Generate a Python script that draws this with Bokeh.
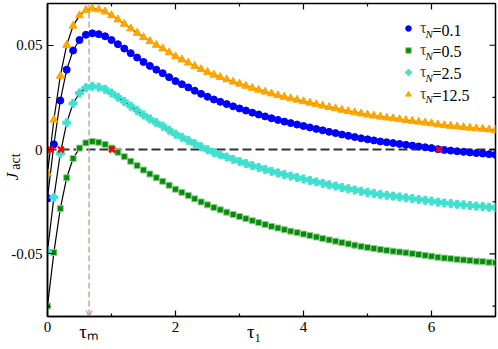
from bokeh.plotting import figure
from bokeh.models import (Range1d, FixedTicker, LinearAxis, Span, Label, Legend,
                          LegendItem, Arrow, OpenHead)
from bokeh.embed import file_html
from bokeh.resources import INLINE

# ---------------- data ----------------
tau1 = [round(0.1 * i, 1) for i in range(71)]

j_tn01 = [-0.0232, 0.0025, 0.0235, 0.0383, 0.0475, 0.0525, 0.0550, 0.0557, 0.0553, 0.0543,
          0.0525, 0.0505, 0.0484, 0.0462, 0.0441, 0.0420, 0.0401, 0.0383, 0.0366, 0.0347,
          0.0328, 0.0313, 0.0298, 0.0282, 0.0267, 0.0253, 0.0240, 0.0229, 0.0218, 0.0207,
          0.0197, 0.0187, 0.0177, 0.0168, 0.0159, 0.0150, 0.0142, 0.0134, 0.0127, 0.0120,
          0.0113, 0.0106, 0.0099, 0.0092, 0.0085, 0.0079, 0.0072, 0.0066, 0.0060, 0.0054,
          0.0049, 0.0044, 0.0039, 0.0035, 0.0031, 0.0027, 0.0023, 0.0019, 0.0015, 0.0011,
          0.0007, 0.0002, -0.0002, -0.0005, -0.0008, -0.0011, -0.0014, -0.0017, -0.0019, -0.0022,
          -0.0025]

j_tn05 = [-0.0750, -0.0493, -0.0283, -0.0135, -0.0043, 0.0007, 0.0032, 0.0039, 0.0035, 0.0025,
          0.0007, -0.0013, -0.0034, -0.0056, -0.0077, -0.0098, -0.0117, -0.0135, -0.0152, -0.0171,
          -0.0190, -0.0205, -0.0220, -0.0236, -0.0251, -0.0265, -0.0278, -0.0289, -0.0300, -0.0311,
          -0.0321, -0.0331, -0.0341, -0.0350, -0.0359, -0.0368, -0.0376, -0.0384, -0.0391, -0.0398,
          -0.0405, -0.0412, -0.0419, -0.0426, -0.0433, -0.0439, -0.0446, -0.0452, -0.0458, -0.0464,
          -0.0469, -0.0474, -0.0479, -0.0483, -0.0487, -0.0491, -0.0495, -0.0499, -0.0503, -0.0507,
          -0.0511, -0.0516, -0.0520, -0.0523, -0.0526, -0.0529, -0.0532, -0.0535, -0.0537, -0.0540,
          -0.0543]

j_tn25 = [-0.0486, -0.0229, -0.0019, 0.0129, 0.0221, 0.0271, 0.0296, 0.0303, 0.0299, 0.0289,
          0.0271, 0.0251, 0.0230, 0.0208, 0.0187, 0.0166, 0.0147, 0.0129, 0.0112, 0.0093,
          0.0074, 0.0059, 0.0044, 0.0028, 0.0013, -0.0001, -0.0014, -0.0025, -0.0036, -0.0047,
          -0.0057, -0.0067, -0.0077, -0.0086, -0.0095, -0.0104, -0.0112, -0.0120, -0.0127, -0.0134,
          -0.0141, -0.0148, -0.0155, -0.0162, -0.0169, -0.0175, -0.0182, -0.0188, -0.0194, -0.0200,
          -0.0205, -0.0210, -0.0215, -0.0219, -0.0223, -0.0227, -0.0231, -0.0235, -0.0239, -0.0243,
          -0.0247, -0.0252, -0.0256, -0.0259, -0.0262, -0.0265, -0.0268, -0.0271, -0.0273, -0.0276,
          -0.0279]

j_tn125 = [-0.0114, 0.0143, 0.0353, 0.0501, 0.0593, 0.0643, 0.0668, 0.0675, 0.0671, 0.0661,
           0.0643, 0.0623, 0.0602, 0.0580, 0.0559, 0.0538, 0.0519, 0.0501, 0.0484, 0.0465,
           0.0446, 0.0431, 0.0416, 0.0400, 0.0385, 0.0371, 0.0358, 0.0347, 0.0336, 0.0325,
           0.0315, 0.0305, 0.0295, 0.0286, 0.0277, 0.0268, 0.0260, 0.0252, 0.0245, 0.0238,
           0.0231, 0.0224, 0.0217, 0.0210, 0.0203, 0.0197, 0.0190, 0.0184, 0.0178, 0.0172,
           0.0167, 0.0162, 0.0157, 0.0153, 0.0149, 0.0145, 0.0141, 0.0137, 0.0133, 0.0129,
           0.0125, 0.0120, 0.0116, 0.0113, 0.0110, 0.0107, 0.0104, 0.0101, 0.0099, 0.0096,
           0.0093]

cross_tau = [0.044, 0.21, 1.01, 6.12]
cross_j = [0.0, 0.0, 0.0, 0.0]
tau_m = 0.65

legend_values = ["0.1", "0.5", "2.5", "12.5"]
x_major = [0, 2, 4, 6]
x_minor = [1, 3, 5]
y_major = [-0.05, 0, 0.05]
y_minor = [-0.075, -0.025, 0.025]
y_tick_labels = {-0.05: "-0.05", 0: "0", 0.05: "0.05"}

FONT = "Liberation Serif"
W, H = 498, 349
FL, FR, FT, FB = 47.0, 495.0, 3.0, 316.0   # frame edges, canvas pixels

# ---------------- figure ----------------
xr = Range1d(0, 7)
yr = Range1d(-0.08, 0.07)
p = figure(width=W, height=H, x_range=xr, y_range=yr,
           output_backend="svg", toolbar_location=None,
           min_border_left=int(FL), min_border_right=int(W - FR),
           min_border_top=int(FT), min_border_bottom=int(H - FB))
p.xgrid.visible = False
p.ygrid.visible = False
p.outline_line_color = "black"
p.outline_line_width = 1.5
p.background_fill_color = "white"
p.border_fill_color = "white"


def X(px):
    return (px - FL) / (FR - FL) * (xr.end - xr.start) + xr.start


def Y(py):
    return yr.end - (py - FT) / (FB - FT) * (yr.end - yr.start)


for ax in (p.xaxis[0], p.yaxis[0]):
    ax.axis_line_color = "black"
    ax.axis_line_width = 1.5
    ax.major_tick_in = 6
    ax.major_tick_out = 0
    ax.minor_tick_in = 3
    ax.minor_tick_out = 0
    ax.major_tick_line_color = "black"
    ax.minor_tick_line_color = "black"
    ax.major_tick_line_width = 1.2
    ax.minor_tick_line_width = 1.2
    ax.major_label_text_font = FONT
    ax.major_label_text_color = "black"
    ax.major_label_text_font_size = "15px"
    ax.major_label_standoff = 5

p.xaxis.ticker = FixedTicker(ticks=x_major, minor_ticks=x_minor)
p.yaxis.ticker = FixedTicker(ticks=y_major, minor_ticks=y_minor)
p.yaxis.major_label_overrides = y_tick_labels


def text_axis(ticks, texts, size, standoff, italic=False, orientation="horizontal"):
    ax = LinearAxis(ticker=FixedTicker(ticks=ticks, minor_ticks=[]),
                    major_label_overrides=dict(zip(ticks, texts)),
                    axis_line_color=None, major_tick_line_color=None,
                    minor_tick_line_color=None, major_tick_in=0, major_tick_out=0,
                    minor_tick_in=0, minor_tick_out=0,
                    major_label_standoff=standoff, major_label_orientation=orientation,
                    major_label_text_font=FONT, major_label_text_font_size=size,
                    major_label_text_font_style="italic" if italic else "normal",
                    major_label_text_color="black")
    return ax


# y-axis title  J_act  (subscript drawn as its own, smaller text)
y_J = round(Y(176), 4)
y_act = round(Y(161), 4)
p.add_layout(text_axis([y_J], ["J"], "17px", -14, italic=True, orientation="vertical"), "left")
p.add_layout(text_axis([y_act], ["act"], "14px", -23, orientation="vertical"), "left")

# tau_m marker label and x-axis title tau_1
x_tau1_title = round(X(253.5), 3)
p.add_layout(text_axis([tau_m, x_tau1_title], ["τₘ", "τ₁"], "19px", -14), "below")

# mirrored inward ticks on the top and right edges
tick_kw = dict(line_color="black", line_width=1.2, length_units="screen", angle_units="deg")
p.ray(x=x_major, y=[yr.end] * len(x_major), length=6, angle=-90, **tick_kw)
p.ray(x=x_minor, y=[yr.end] * len(x_minor), length=3, angle=-90, **tick_kw)
p.ray(x=[xr.end] * len(y_major), y=y_major, length=6, angle=180, **tick_kw)
p.ray(x=[xr.end] * len(y_minor), y=y_minor, length=3, angle=180, **tick_kw)

# reference lines
p.add_layout(Span(location=0, dimension="width", line_color="#333333", line_width=2,
                  line_dash="9 4", level="underlay"))
p.add_layout(Arrow(end=OpenHead(size=6, line_color="#c9a5a5", line_width=1.5),
                   x_start=tau_m, y_start=yr.end, x_end=tau_m, y_end=yr.start,
                   line_color="#c9a5a5", line_width=1.5, line_dash="6 3", level="underlay"))

# curves
series = [
    (j_tn01, "circle", 7, "#0000ff", "#0000ff", 1),
    (j_tn05, "square", 6, "#0a8a0a", "#8fd08f", 1),
    (j_tn25, "plus", 8, "#40e0d0", "#40e0d0", 1),
    (j_tn125, "triangle", 8, "#ffa500", "#ffa500", 1),
]
renderers = []
for vals, *_ in series:
    p.line(tau1, vals, line_color="black", line_width=1.2)
for vals, mk, sz, fc, lc, lw in series:
    r = p.scatter(tau1, vals, marker=mk, size=sz, fill_color=fc, line_color=lc, line_width=lw)
    renderers.append(r)

p.scatter(cross_tau, cross_j, marker="x", size=8, line_color="#ff0000", line_width=2.5)

# legend (markers + tau)
legend = Legend(items=[LegendItem(label="τ", renderers=[r]) for r in renderers],
                location=(354, 211), orientation="vertical",
                glyph_width=14, glyph_height=22, label_height=22, label_width=10,
                spacing=0, padding=0, margin=0, label_standoff=5,
                label_text_font=FONT, label_text_font_size="16px",
                border_line_alpha=0, background_fill_alpha=0)
p.add_layout(legend)


def lab(text, px, py, size, italic=False):
    p.add_layout(Label(x=X(px), y=Y(py), text=text, text_font=FONT,
                       text_font_size=size, text_font_style="italic" if italic else "normal",
                       text_color="black", text_align="left", text_baseline="alphabetic"))


row_y = [29.5, 51.3, 73.0, 94.5]
for v, ry in zip(legend_values, row_y):
    lab("N", 425, ry + 4, "11px", italic=True)
    lab("=" + v, 432, ry, "16px")

open("out.html", "w").write(file_html(p, INLINE))
